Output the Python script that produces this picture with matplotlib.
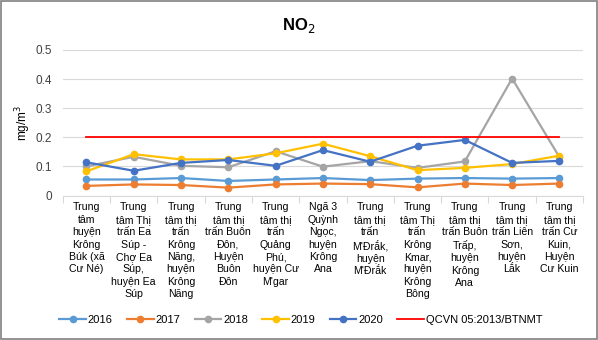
import matplotlib.pyplot as plt
from matplotlib.patches import Rectangle

# ========= DATA =========
SITES = [
    "Trung\ntâm\nhuyện\nKrông\nBúk (xã\nCư Né)",
    "Trung\ntâm Thị\ntrấn Ea\nSúp -\nChợ Ea\nSúp,\nhuyện Ea\nSúp",
    "Trung\ntâm thị\ntrấn\nKrông\nNăng,\nhuyện\nKrông\nNăng",
    "Trung\ntâm thị\ntrấn Buôn\nĐôn,\nHuyện\nBuôn\nĐôn",
    "Trung\ntâm thị\ntrấn\nQuảng\nPhú,\nhuyện Cư\nM'gar",
    "Ngã 3\nQuỳnh\nNgọc,\nhuyện\nKrông\nAna",
    "Trung\ntâm thị\ntrấn\nM'Đrắk,\nhuyện\nM'Đrắk",
    "Trung\ntâm Thị\ntrấn\nKrông\nKmar,\nhuyện\nKrông\nBông",
    "Trung\ntâm thị\ntrấn Buôn\nTrấp,\nhuyện\nKrông\nAna",
    "Trung\ntâm thị\ntrấn Liên\nSơn,\nhuyện\nLắk",
    "Trung\ntâm thị\ntrấn Cư\nKuin,\nHuyện\nCư Kuin",
]

NO2_2016 = [0.055, 0.055, 0.060, 0.050, 0.055, 0.060, 0.053, 0.058, 0.060, 0.058, 0.060]
NO2_2017 = [0.033, 0.038, 0.036, 0.027, 0.038, 0.041, 0.039, 0.028, 0.041, 0.036, 0.041]
NO2_2018 = [0.100, 0.133, 0.102, 0.097, 0.152, 0.099, 0.118, 0.095, 0.117, 0.402, 0.132]
NO2_2019 = [0.083, 0.142, 0.124, 0.124, 0.145, 0.178, 0.135, 0.087, 0.095, 0.108, 0.137]
NO2_2020 = [0.114, 0.085, 0.112, 0.122, 0.102, 0.156, 0.116, 0.171, 0.191, 0.112, 0.119]
QCVN_LIMIT = 0.2

SERIES = [
    ("2016", NO2_2016, "#5B9BD5"),
    ("2017", NO2_2017, "#ED7D31"),
    ("2018", NO2_2018, "#A5A5A5"),
    ("2019", NO2_2019, "#FFC000"),
    ("2020", NO2_2020, "#4472C4"),
]
# ========================

plt.rcParams["font.family"] = ["Liberation Sans", "DejaVu Sans"]

fig = plt.figure(figsize=(5.98, 3.40), dpi=100)
ax = fig.add_axes([0.105, 0.425, 0.87, 0.428])

x = list(range(len(SITES)))
for name, vals, color in SERIES:
    ax.plot(x, vals, color=color, lw=1.6, marker="o", ms=4.5, label=name)

ax.plot(x, [QCVN_LIMIT] * len(x), color="#FF0000", lw=1.3,
        label="QCVN 05:2013/BTNMT")

ax.set_ylim(0, 0.5)
ax.set_xlim(-0.5, len(SITES) - 0.5)
ax.set_yticks([0, 0.1, 0.2, 0.3, 0.4, 0.5])
ax.set_yticklabels(["0", "0.1", "0.2", "0.3", "0.4", "0.5"])
ax.grid(axis="y", color="#D9D9D9", lw=0.8)
ax.set_axisbelow(True)

ax.set_xticks(x)
ax.set_xticklabels(SITES, fontsize=7.6, linespacing=1.3, va="top")
ax.set_xticks([i - 0.5 for i in range(len(SITES) + 1)], minor=True)
ax.tick_params(axis="x", which="major", length=0, pad=5)
ax.tick_params(axis="x", which="minor", length=5, color="#D9D9D9", width=0.8)
ax.tick_params(axis="y", length=0, pad=8, labelsize=8.5, labelcolor="#404040")

for side in ["top", "right", "left"]:
    ax.spines[side].set_visible(False)
ax.spines["bottom"].set_color("#D9D9D9")

ax.set_ylabel("mg/m$^3$", fontsize=8.5)
ax.yaxis.set_label_coords(-0.058, 0.5)
fig.text(0.5, 0.925, "NO$_2$", ha="center", va="center",
         fontsize=12, fontweight="bold")

fig.legend(loc="center", bbox_to_anchor=(0.503, 0.06), ncol=6, frameon=False,
           fontsize=8, handlelength=2.4, columnspacing=1.3, handletextpad=0.15)

# thin frame around the whole chart
fig.patches.append(Rectangle((0.002, 0.003), 0.996, 0.994, transform=fig.transFigure,
                             fill=False, edgecolor="#808080", lw=1.2))

fig.savefig("out.png", dpi=100)
